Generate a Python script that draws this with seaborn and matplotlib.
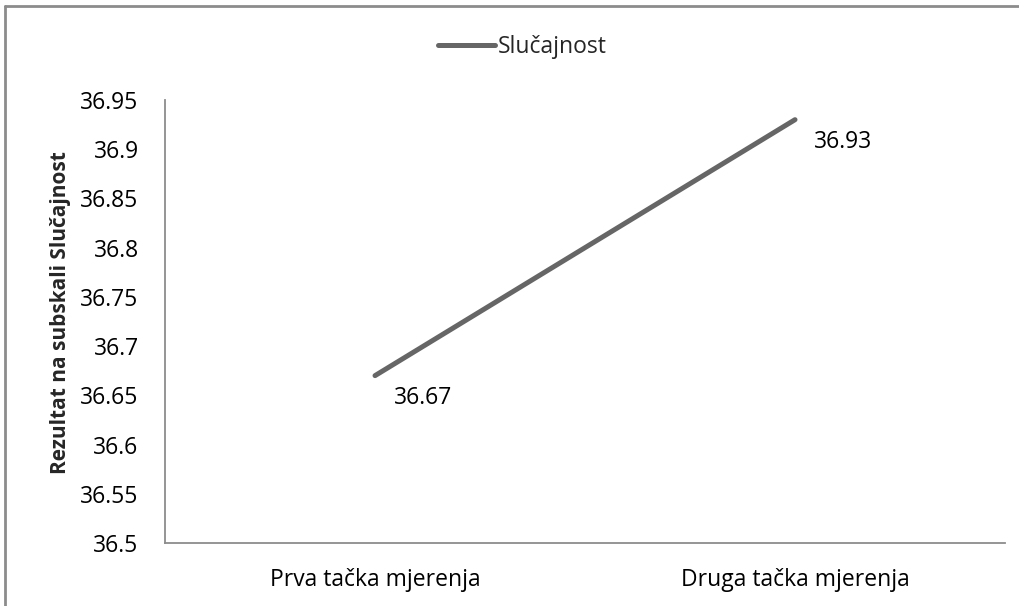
import pandas as pd
import numpy as np
import matplotlib.pyplot as plt
import seaborn as sns
from matplotlib.lines import Line2D

# ==========================================
# Data
# ==========================================

categories = ["Prva tačka mjerenja", "Druga tačka mjerenja"]
values = [36.67, 36.93]
series_name = "Slučajnost"
y_ticks = [36.5, 36.55, 36.6, 36.65, 36.7, 36.75, 36.8, 36.85, 36.9, 36.95]

df = pd.DataFrame({"Mjerenje": categories, "Rezultat": values})
df["x"] = np.arange(len(categories))

# ==========================================
# Style
# ==========================================

sns.set_style("white")
plt.rcParams["font.family"] = ["Open Sans", "DejaVu Sans"]

line_color = "#666666"
spine_color = "#8c8c8c"
fs = 16.5

fig = plt.figure(figsize=(10.2, 6.06), dpi=100)
ax = fig.add_axes([0.1618, 0.104, 0.8235, 0.731])

sns.lineplot(
    data=df,
    x="x",
    y="Rezultat",
    color=line_color,
    linewidth=3.6,
    solid_capstyle="round",
    label=series_name,
    ax=ax
)

# data labels
for xi, v in zip(df["x"], df["Rezultat"]):
    ax.annotate(
        f"{v:.2f}",
        xy=(xi, v),
        xytext=(19, -22),
        textcoords="offset pixels",
        ha="left",
        va="center",
        fontsize=fs,
        color="black"
    )

ax.set_xlim(-0.5, len(categories) - 0.5)
ax.set_ylim(36.5, 36.95)
ax.set_xticks(df["x"])
ax.set_xticklabels(categories)
ax.set_yticks(y_ticks)
ax.set_yticklabels([f"{t:g}" for t in y_ticks])
ax.tick_params(axis="both", length=0, labelsize=fs, colors="black")
ax.tick_params(axis="y", pad=19)
ax.tick_params(axis="x", pad=18)

ax.set_xlabel("")
ax.set_ylabel("Rezultat na subskali Slučajnost", fontsize=15,
              fontweight="bold")
ax.yaxis.set_label_coords(-0.112, 0.52)

for side in ["top", "right"]:
    ax.spines[side].set_visible(False)
for side in ["left", "bottom"]:
    ax.spines[side].set_color(spine_color)
    ax.spines[side].set_linewidth(1.3)

leg = ax.legend(
    loc="center",
    bbox_to_anchor=(0.512, 0.922),
    bbox_transform=fig.transFigure,
    frameon=False,
    fontsize=fs,
    handlelength=2.5,
    handletextpad=0.1
)

# outer chart border (left and top)
fig.add_artist(Line2D([5 / 1020, 5 / 1020], [0, 1 - 6 / 606],
                      transform=fig.transFigure, color=spine_color, linewidth=2))
fig.add_artist(Line2D([5 / 1020, 1], [1 - 6 / 606, 1 - 6 / 606],
                      transform=fig.transFigure, color=spine_color, linewidth=2))

plt.savefig("out.png", dpi=100)
